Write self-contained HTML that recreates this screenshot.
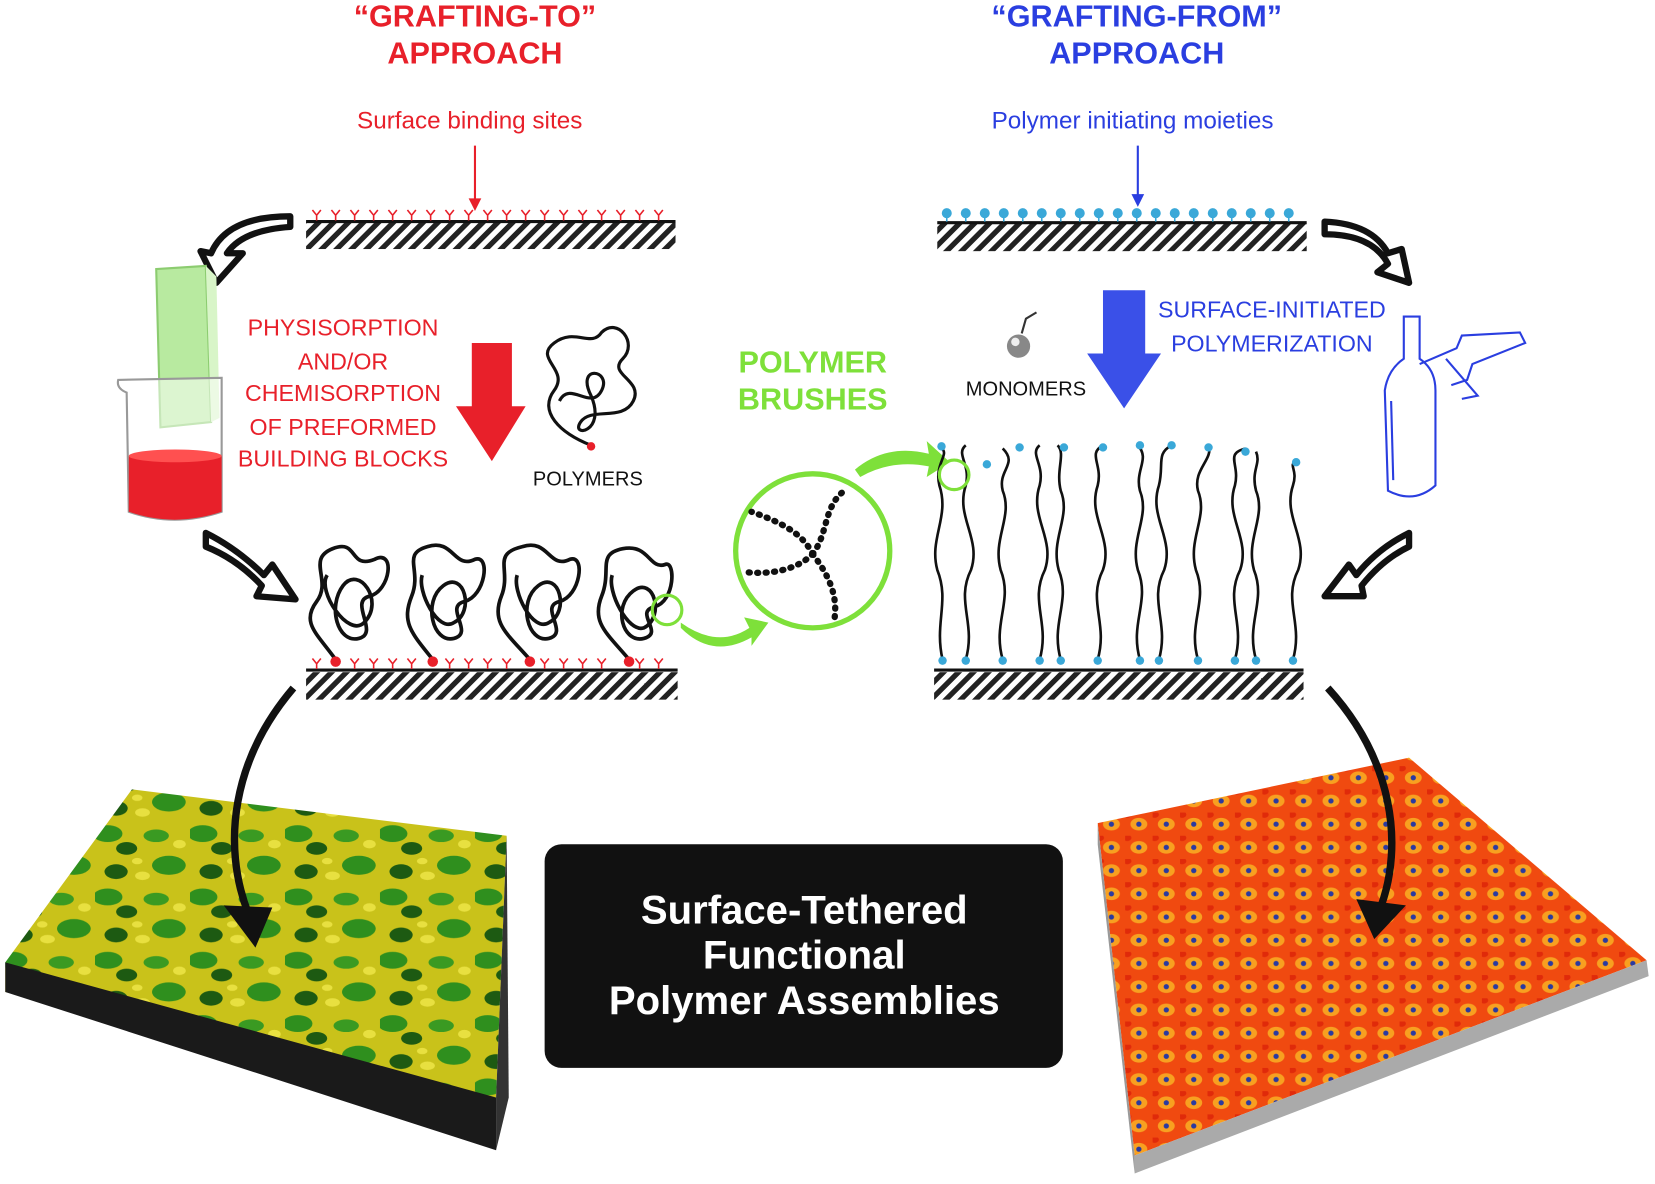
<!DOCTYPE html>
<html><head><meta charset="utf-8"><style>
html,body{margin:0;padding:0;background:#fff}
svg{display:block}
text{font-family:"Liberation Sans",sans-serif}
</style></head><body>
<svg width="1655" height="1184" viewBox="0 0 1568 1122" preserveAspectRatio="none" xmlns="http://www.w3.org/2000/svg">
<defs>
<pattern id="hatch" width="10" height="10" patternUnits="userSpaceOnUse" patternTransform="rotate(45)">
<rect width="5" height="10" fill="#222"/></pattern>
<pattern id="gy" width="90" height="60" patternUnits="userSpaceOnUse">
<rect width="90" height="60" fill="#c9c21a"/>
<ellipse cx="12" cy="10" rx="14" ry="8" fill="#2f8f1e"/>
<ellipse cx="30" cy="24" rx="10" ry="6" fill="#1d5a12"/>
<ellipse cx="58" cy="12" rx="12" ry="6" fill="#3a9a22"/>
<ellipse cx="70" cy="40" rx="16" ry="9" fill="#2f8f1e"/>
<ellipse cx="20" cy="46" rx="11" ry="7" fill="#1d5a12"/>
<ellipse cx="45" cy="50" rx="7" ry="4" fill="#e8e040"/>
<ellipse cx="80" cy="20" rx="6" ry="4" fill="#e8e040"/>
<ellipse cx="40" cy="36" rx="5" ry="3" fill="#e8e040"/>
</pattern>
<pattern id="ro" width="26" height="22" patternUnits="userSpaceOnUse">
<rect width="26" height="22" fill="#f04a10"/>
<ellipse cx="13" cy="11" rx="8" ry="6" fill="#f8a020"/>
<circle cx="13" cy="11" r="2.5" fill="#2a3aa0"/>
<ellipse cx="2" cy="2" rx="4" ry="3" fill="#e02a0a"/>
</pattern>
</defs>

<!-- titles -->
<g font-weight="bold" font-size="29" text-anchor="middle">
<text x="450" y="25" fill="#e8202a">“GRAFTING-TO”</text>
<text x="450" y="60" fill="#e8202a">APPROACH</text>
<text x="1077" y="25" fill="#2a3ee0">“GRAFTING-FROM”</text>
<text x="1077" y="60" fill="#2a3ee0">APPROACH</text>
</g>
<text x="445" y="122" font-size="23" fill="#e8202a" text-anchor="middle">Surface binding sites</text>
<text x="1073" y="122" font-size="23" fill="#2a3ee0" text-anchor="middle">Polymer initiating moieties</text>
<line x1="450" y1="138" x2="450" y2="192" stroke="#e8202a" stroke-width="2"/>
<path d="M444,188 L456,188 L450,200z" fill="#e8202a"/>
<line x1="1078" y1="138" x2="1078" y2="188" stroke="#2a3ee0" stroke-width="2"/>
<path d="M1072,184 L1084,184 L1078,196z" fill="#2a3ee0"/>

<!-- top surfaces -->
<rect x="290" y="210" width="350" height="26" fill="url(#hatch)"/>
<line x1="290" y1="210" x2="640" y2="210" stroke="#111" stroke-width="3"/>
<g stroke="#e8202a" stroke-width="1.5" fill="none">
<path d="M300,209v-5 l-4,-5 M300,204 l4,-5 M318,209v-5 l-4,-5 M318,204 l4,-5 M336,209v-5 l-4,-5 M336,204 l4,-5 M354,209v-5 l-4,-5 M354,204 l4,-5 M372,209v-5 l-4,-5 M372,204 l4,-5 M390,209v-5 l-4,-5 M390,204 l4,-5 M408,209v-5 l-4,-5 M408,204 l4,-5 M426,209v-5 l-4,-5 M426,204 l4,-5 M444,209v-5 l-4,-5 M444,204 l4,-5 M462,209v-5 l-4,-5 M462,204 l4,-5 M480,209v-5 l-4,-5 M480,204 l4,-5 M498,209v-5 l-4,-5 M498,204 l4,-5 M516,209v-5 l-4,-5 M516,204 l4,-5 M534,209v-5 l-4,-5 M534,204 l4,-5 M552,209v-5 l-4,-5 M552,204 l4,-5 M570,209v-5 l-4,-5 M570,204 l4,-5 M588,209v-5 l-4,-5 M588,204 l4,-5 M606,209v-5 l-4,-5 M606,204 l4,-5 M624,209v-5 l-4,-5 M624,204 l4,-5"/>
</g>
<rect x="888" y="212" width="350" height="26" fill="url(#hatch)"/>
<line x1="888" y1="211" x2="1238" y2="211" stroke="#111" stroke-width="3"/>
<g stroke="#3aa8d8" stroke-width="1.5" fill="#3aa8d8">
<path d="M897,210v-7 M915,210v-7 M933,210v-7 M951,210v-7 M969,210v-7 M987,210v-7 M1005,210v-7 M1023,210v-7 M1041,210v-7 M1059,210v-7 M1077,210v-7 M1095,210v-7 M1113,210v-7 M1131,210v-7 M1149,210v-7 M1167,210v-7 M1185,210v-7 M1203,210v-7 M1221,210v-7"/>
<circle cx="897" cy="202" r="4"/><circle cx="915" cy="202" r="4"/><circle cx="933" cy="202" r="4"/><circle cx="951" cy="202" r="4"/><circle cx="969" cy="202" r="4"/><circle cx="987" cy="202" r="4"/><circle cx="1005" cy="202" r="4"/><circle cx="1023" cy="202" r="4"/><circle cx="1041" cy="202" r="4"/><circle cx="1059" cy="202" r="4"/><circle cx="1077" cy="202" r="4"/><circle cx="1095" cy="202" r="4"/><circle cx="1113" cy="202" r="4"/><circle cx="1131" cy="202" r="4"/><circle cx="1149" cy="202" r="4"/><circle cx="1167" cy="202" r="4"/><circle cx="1185" cy="202" r="4"/><circle cx="1203" cy="202" r="4"/><circle cx="1221" cy="202" r="4"/>
</g>

<!-- hollow curved arrows -->
<g fill="#fff" stroke="#111" stroke-width="6" stroke-linejoin="round">
<path d="M275,215 Q230,218 215,240 L230,240 L205,268 L190,238 L200,240 Q215,205 275,205z"/>
<path d="M1255,210 Q1300,212 1315,240 L1328,236 L1335,268 L1305,258 L1315,250 Q1300,222 1255,222z"/>
<path d="M195,505 Q225,520 250,545 L258,535 L280,568 L243,565 L248,555 Q225,530 195,518z"/>
<path d="M1335,505 Q1305,520 1285,545 L1278,535 L1255,565 L1292,565 L1290,555 Q1310,530 1335,518z"/>
</g>

<!-- beaker -->
<path d="M148,255 L195,252 L200,400 L152,405z" fill="#b8eaa0" stroke="#8ccc70" stroke-width="2"/>
<path d="M195,252 L205,262 L208,396 L200,400z" fill="#d8f5c8"/>
<path d="M120,372 Q110,368 112,360 L210,358 L210,485 Q165,500 122,485z" fill="#fff" fill-opacity="0.5" stroke="#999" stroke-width="2"/>
<path d="M122,432 Q166,440 210,432 L210,485 Q165,500 122,485z" fill="#e8202a"/>
<ellipse cx="166" cy="432" rx="44" ry="6" fill="#ff5050"/>

<g font-size="22" fill="#e8202a" text-anchor="middle">
<text x="325" y="318">PHYSISORPTION</text>
<text x="325" y="350">AND/OR</text>
<text x="325" y="380">CHEMISORPTION</text>
<text x="325" y="412">OF PREFORMED</text>
<text x="325" y="442">BUILDING BLOCKS</text>
</g>
<path d="M447,325 L485,325 L485,385 L498,385 L466,437 L432,385 L447,385z" fill="#e8202a"/>
<path d="M560,422 C530,410 510,390 525,370 C540,350 505,340 525,325 C545,310 560,330 570,315 C585,300 605,325 590,340 C575,355 610,360 600,380 C590,400 560,385 550,400 C540,415 575,410 560,375 C545,345 580,350 570,370 C560,390 540,360 530,380" fill="none" stroke="#111" stroke-width="3"/>
<circle cx="560" cy="423" r="4" fill="#e8202a"/>
<text x="557" y="460" font-size="19" text-anchor="middle" fill="#111">POLYMERS</text>

<g font-weight="bold" font-size="29" fill="#7ee03a" text-anchor="middle">
<text x="770" y="353">POLYMER</text>
<text x="770" y="388">BRUSHES</text>
</g>

<path d="M1045,275 L1085,275 L1085,335 L1100,335 L1065,387 L1030,335 L1045,335z" fill="#3a50e8"/>
<circle cx="965" cy="328" r="11" fill="#888"/><circle cx="962" cy="324" r="4" fill="#eee"/>
<path d="M968,316 L972,302 L982,296" stroke="#333" stroke-width="2" fill="none"/>
<text x="972" y="375" font-size="19" text-anchor="middle" fill="#111">MONOMERS</text>
<g font-size="22" fill="#2a3ee0" text-anchor="middle">
<text x="1205" y="301">SURFACE-INITIATED</text>
<text x="1205" y="333">POLYMERIZATION</text>
</g>
<g fill="none" stroke="#2a3ee0" stroke-width="2">
<path d="M1330,300 L1345,300 L1345,340 Q1360,350 1360,370 L1360,460 Q1340,478 1315,465 L1312,370 Q1315,350 1330,340z"/>
<path d="M1345,345 L1380,330 L1385,318 L1440,315 L1445,325 L1395,345 L1390,360 L1375,365"/>
<path d="M1370,340 L1400,375 L1385,378"/>
<path d="M1318,380 L1320,455"/>
</g>

<rect x="290" y="637" width="352" height="26" fill="url(#hatch)"/>
<line x1="290" y1="635" x2="642" y2="635" stroke="#111" stroke-width="3"/>
<g stroke="#e8202a" stroke-width="1.5" fill="none">
<path d="M300,634v-5 l-4,-5 M300,629 l4,-5 M336,634v-5 l-4,-5 M336,629 l4,-5 M354,634v-5 l-4,-5 M354,629 l4,-5 M372,634v-5 l-4,-5 M372,629 l4,-5 M390,634v-5 l-4,-5 M390,629 l4,-5 M426,634v-5 l-4,-5 M426,629 l4,-5 M444,634v-5 l-4,-5 M444,629 l4,-5 M462,634v-5 l-4,-5 M462,629 l4,-5 M480,634v-5 l-4,-5 M480,629 l4,-5 M516,634v-5 l-4,-5 M516,629 l4,-5 M534,634v-5 l-4,-5 M534,629 l4,-5 M552,634v-5 l-4,-5 M552,629 l4,-5 M570,634v-5 l-4,-5 M570,629 l4,-5 M606,634v-5 l-4,-5 M606,629 l4,-5 M624,634v-5 l-4,-5 M624,629 l4,-5"/>
</g>
<g fill="none" stroke="#111" stroke-width="3.5">
<path d="M318,625 C300,600 285,590 300,570 C315,550 290,530 315,520 C340,510 330,540 355,530 C375,520 370,560 350,565 C330,570 360,600 340,605 C320,610 310,575 325,555 C340,535 365,570 345,590 C330,605 300,560 310,545"/>
<path d="M410,625 C390,600 380,590 390,565 C400,540 380,525 405,518 C430,510 430,540 450,530 C465,525 460,565 440,570 C420,575 450,600 430,605 C410,610 400,570 420,555 C440,540 450,580 430,590 C415,600 395,560 400,545"/>
<path d="M502,625 C480,600 465,590 475,565 C485,540 465,525 495,518 C520,510 520,540 540,530 C555,525 550,565 530,570 C510,575 540,600 520,605 C500,610 490,570 510,555 C530,540 540,580 520,590 C505,600 485,560 490,545"/>
<path d="M596,625 C575,600 560,590 570,565 C580,540 565,525 590,520 C615,515 615,540 630,535 C640,530 640,570 620,575 C600,580 630,600 610,605 C590,610 580,575 600,560 C620,545 630,585 610,595 C595,600 575,560 580,545"/>
</g>
<g fill="#e8202a"><circle cx="318" cy="627" r="5"/><circle cx="410" cy="627" r="5"/><circle cx="502" cy="627" r="5"/><circle cx="596" cy="627" r="5"/></g>
<circle cx="632" cy="578" r="14" fill="none" stroke="#7ee03a" stroke-width="3"/>
<path d="M645,590 Q680,615 710,595 L705,585 L728,590 L712,612 L712,604 Q675,625 645,595z" fill="#7ee03a"/>

<circle cx="770" cy="522" r="73" fill="#fff" stroke="#7ee03a" stroke-width="5"/>
<g fill="none" stroke="#111" stroke-width="6" stroke-dasharray="1 7" stroke-linecap="round">
<path d="M770,525 C760,505 740,495 712,485"/>
<path d="M770,525 C785,505 780,480 800,465"/>
<path d="M770,525 C755,540 730,545 705,542"/>
<path d="M770,525 C785,545 795,565 790,590"/>
</g>
<path d="M810,445 Q840,420 880,430 L878,418 L900,438 L878,452 L880,442 Q845,435 815,452z" fill="#7ee03a"/>

<rect x="885" y="637" width="350" height="26" fill="url(#hatch)"/>
<line x1="885" y1="635" x2="1235" y2="635" stroke="#111" stroke-width="3"/>
<g fill="none" stroke="#111" stroke-width="2.5">
<path d="M893,625 C885,590 900,570 888,540 C880,510 900,490 890,460 C885,440 900,430 892,425"/>
<path d="M915,625 C925,590 905,570 920,540 C930,510 905,490 915,460 C920,440 905,430 915,422"/>
<path d="M950,625 C940,590 960,570 948,540 C940,510 960,490 950,465 C945,445 965,440 950,425"/>
<path d="M985,625 C995,590 975,570 990,540 C1000,510 975,490 985,460 C990,440 975,430 985,422"/>
<path d="M1005,625 C995,590 1015,570 1003,540 C995,510 1015,490 1005,465 C1000,445 1010,430 1002,422"/>
<path d="M1040,625 C1050,590 1030,570 1045,540 C1055,510 1030,490 1040,460 C1045,440 1030,430 1045,422"/>
<path d="M1080,625 C1070,590 1090,570 1078,540 C1070,510 1090,490 1080,465 C1075,445 1090,435 1078,422"/>
<path d="M1098,625 C1108,590 1088,570 1103,540 C1113,510 1088,490 1098,460 C1103,440 1095,430 1110,422"/>
<path d="M1135,625 C1125,590 1145,570 1133,540 C1125,510 1145,490 1135,465 C1130,445 1150,435 1145,422"/>
<path d="M1170,625 C1180,590 1160,570 1175,540 C1185,510 1160,490 1170,460 C1175,440 1160,430 1180,425"/>
<path d="M1190,625 C1180,590 1200,570 1188,540 C1180,510 1200,490 1190,465 C1185,445 1195,440 1190,428"/>
<path d="M1225,625 C1235,590 1215,570 1230,540 C1240,510 1215,490 1225,460 C1230,445 1220,440 1228,438"/>
</g>
<g fill="#3aa8d8">
<circle cx="893" cy="626" r="4"/><circle cx="915" cy="626" r="4"/><circle cx="950" cy="626" r="4"/><circle cx="985" cy="626" r="4"/><circle cx="1005" cy="626" r="4"/><circle cx="1040" cy="626" r="4"/><circle cx="1080" cy="626" r="4"/><circle cx="1098" cy="626" r="4"/><circle cx="1135" cy="626" r="4"/><circle cx="1170" cy="626" r="4"/><circle cx="1190" cy="626" r="4"/><circle cx="1225" cy="626" r="4"/>
<circle cx="892" cy="423" r="4"/><circle cx="935" cy="440" r="4"/><circle cx="966" cy="424" r="4"/><circle cx="1008" cy="424" r="4"/><circle cx="1045" cy="424" r="4"/><circle cx="1080" cy="422" r="4"/><circle cx="1110" cy="422" r="4"/><circle cx="1145" cy="424" r="4"/><circle cx="1180" cy="428" r="4"/><circle cx="1228" cy="438" r="4"/>
</g>
<circle cx="904" cy="450" r="14" fill="none" stroke="#7ee03a" stroke-width="3"/>

<path d="M5,912 L125,748 L480,792 L470,1040 L5,940z" fill="url(#gy)"/>
<path d="M5,912 L5,940 L470,1090 L470,1040z" fill="#1a1a1a"/>
<path d="M470,1040 L480,792 L482,1040 L470,1090z" fill="#333"/>
<path d="M1040,780 L1335,718 L1560,910 L1075,1095z" fill="url(#ro)"/>
<path d="M1075,1095 L1560,910 L1562,925 L1075,1112z" fill="#aaa"/>
<path d="M1040,780 L1075,1095 L1075,1112 L1040,800z" fill="#999"/>

<path d="M278,652 C220,720 210,800 235,865" fill="none" stroke="#111" stroke-width="7"/>
<path d="M212,858 L258,860 L242,898z" fill="#111"/>
<path d="M1258,652 C1320,720 1330,800 1308,860" fill="none" stroke="#111" stroke-width="7"/>
<path d="M1285,852 L1332,858 L1302,890z" fill="#111"/>

<rect x="516" y="800" width="491" height="212" rx="16" fill="#111"/>
<g font-weight="bold" font-size="38" fill="#fff" text-anchor="middle">
<text x="762" y="875">Surface-Tethered</text>
<text x="762" y="918">Functional</text>
<text x="762" y="961">Polymer Assemblies</text>
</g>
</svg>
</body></html>
